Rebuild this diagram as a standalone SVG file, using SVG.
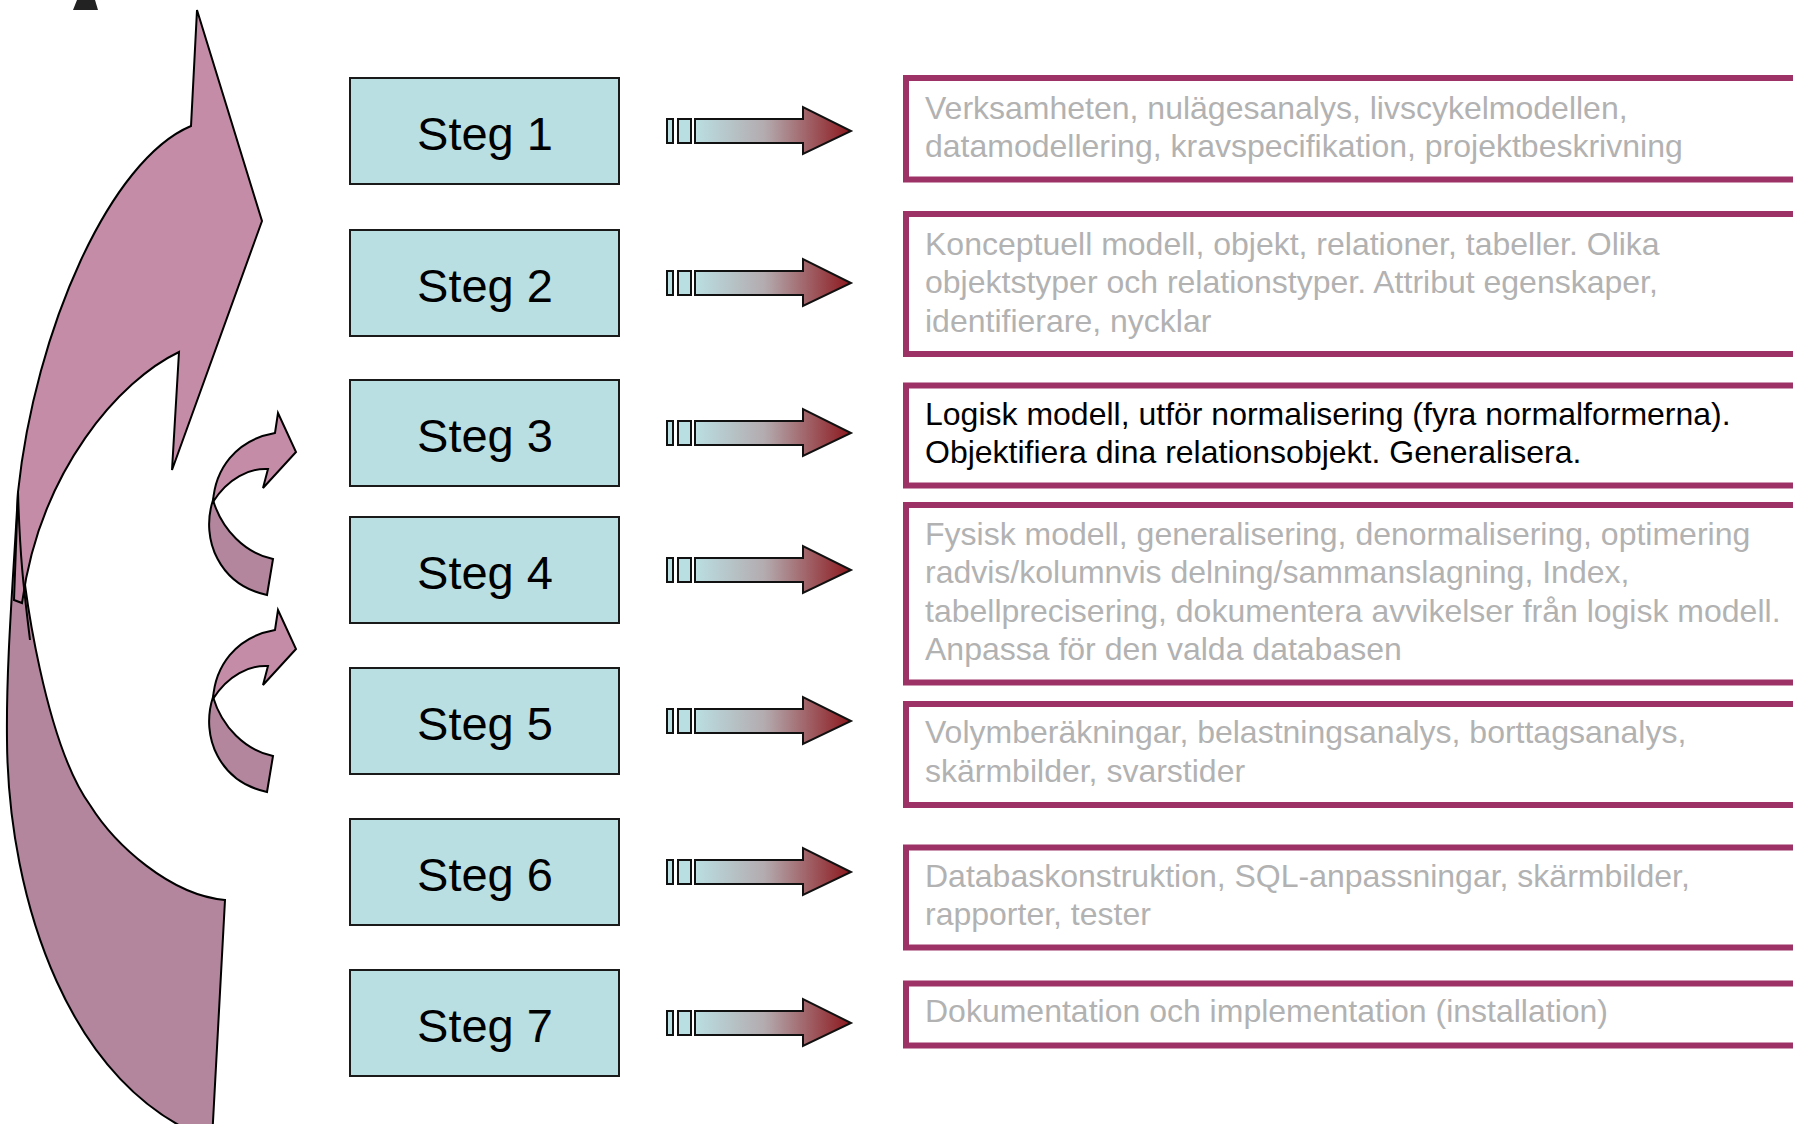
<svg xmlns="http://www.w3.org/2000/svg" width="1793" height="1124" viewBox="0 0 1793 1124">
<defs>
<linearGradient id="arrGrad" x1="695" y1="0" x2="851" y2="0" gradientUnits="userSpaceOnUse">
<stop offset="0" stop-color="#BADFE2"/>
<stop offset="0.45" stop-color="#B3AAAE"/>
<stop offset="1" stop-color="#8C181E"/>
</linearGradient>
<g id="stegArrow">
<rect x="667" y="-12" width="6" height="24" fill="#BADFE2" stroke="#111" stroke-width="2"/>
<rect x="678" y="-12" width="13" height="24" fill="#BADFE2" stroke="#111" stroke-width="2"/>
<path d="M695,-12 L803,-12 L803,-24 L851,0 L803,23 L803,12 L695,12 Z" fill="url(#arrGrad)" stroke="#111" stroke-width="2"/>
</g>
<g id="smallCurve">
<path d="M213,500 C200,540 220,585 267,595 L273,559 C245,553 222,530 213,500 Z" class="back"/>
<path d="M213,502 C215,470 235,440 275,433 L278,413 L296,452 L263,488 L268,469 C250,468 228,478 213,502 Z" class="front"/>
</g>
</defs>
<style>
.steg rect{fill:#B9DFE2;stroke:#1a1a1a;stroke-width:2}
.steg text{font-family:"Liberation Sans",Arial,sans-serif;font-size:47px;fill:#000;text-anchor:middle}
.desc rect{fill:#fff;stroke:#9C3265;stroke-width:6}
.desc text{font-family:"Liberation Sans",Arial,sans-serif;font-size:32px;fill:#B2B2B2}
.desc text.active{fill:#000}
.front{fill:#C58CA7;stroke:#000;stroke-width:2;stroke-linejoin:miter}
.back{fill:#B4869E;stroke:#000;stroke-width:2}
</style>

<polygon points="77,0 95,0 98,10 73,10" fill="#222"/>

<g id="big-curved-arrow">
<path class="back" d="M18,492 C14,570 6,660 7,740 C8,900 70,1090 212,1140 L225,900 C170,895 115,845 90,805 C50,750 20,600 18,492 Z"/>
<path class="front" d="M14,600 L18,492 C35,330 110,160 191,126 L197,10 L262,221 L172,470 L179,352 C120,380 40,470 22,603 Z"/>
<path d="M18,492 C20,560 24,590 30,640" fill="none" stroke="#000" stroke-width="2"/>
</g>

<g id="loop-arrow-1"><use href="#smallCurve"/></g>
<g id="loop-arrow-2"><use href="#smallCurve" transform="translate(0,197)"/></g>

<g id="steg1" class="steg"><rect x="350" y="78" width="269" height="106"/><text x="485" y="150">Steg 1</text></g>
<g id="steg2" class="steg"><rect x="350" y="230" width="269" height="106"/><text x="485" y="302">Steg 2</text></g>
<g id="steg3" class="steg"><rect x="350" y="380" width="269" height="106"/><text x="485" y="452">Steg 3</text></g>
<g id="steg4" class="steg"><rect x="350" y="517" width="269" height="106"/><text x="485" y="589">Steg 4</text></g>
<g id="steg5" class="steg"><rect x="350" y="668" width="269" height="106"/><text x="485" y="740">Steg 5</text></g>
<g id="steg6" class="steg"><rect x="350" y="819" width="269" height="106"/><text x="485" y="891">Steg 6</text></g>
<g id="steg7" class="steg"><rect x="350" y="970" width="269" height="106"/><text x="485" y="1042">Steg 7</text></g>

<g id="connectors">
<use href="#stegArrow" transform="translate(0,131)"/>
<use href="#stegArrow" transform="translate(0,283)"/>
<use href="#stegArrow" transform="translate(0,433)"/>
<use href="#stegArrow" transform="translate(0,570)"/>
<use href="#stegArrow" transform="translate(0,721)"/>
<use href="#stegArrow" transform="translate(0,872)"/>
<use href="#stegArrow" transform="translate(0,1023)"/>
</g>

<g id="desc1" class="desc"><rect x="906" y="78" width="1000" height="101.5"/>
<text x="925" y="119">Verksamheten, nulägesanalys, livscykelmodellen,</text>
<text x="925" y="157">datamodellering, kravspecifikation, projektbeskrivning</text></g>
<g id="desc2" class="desc"><rect x="906" y="214" width="1000" height="140"/>
<text x="925" y="255">Konceptuell modell, objekt, relationer, tabeller. Olika</text>
<text x="925" y="293">objektstyper och relationstyper. Attribut egenskaper,</text>
<text x="925" y="332">identifierare, nycklar</text></g>
<g id="desc3" class="desc"><rect x="906" y="385.5" width="1000" height="100"/>
<text class="active" x="925" y="425">Logisk modell, utför normalisering (fyra normalformerna).</text>
<text class="active" x="925" y="463">Objektifiera dina relationsobjekt. Generalisera.</text></g>
<g id="desc4" class="desc"><rect x="906" y="505" width="1000" height="177.5"/>
<text x="925" y="545">Fysisk modell, generalisering, denormalisering, optimering</text>
<text x="925" y="583">radvis/kolumnvis delning/sammanslagning, Index,</text>
<text x="925" y="622">tabellprecisering, dokumentera avvikelser från logisk modell.</text>
<text x="925" y="660">Anpassa för den valda databasen</text></g>
<g id="desc5" class="desc"><rect x="906" y="704" width="1000" height="101"/>
<text x="925" y="743">Volymberäkningar, belastningsanalys, borttagsanalys,</text>
<text x="925" y="782">skärmbilder, svarstider</text></g>
<g id="desc6" class="desc"><rect x="906" y="847.5" width="1000" height="100"/>
<text x="925" y="887">Databaskonstruktion, SQL-anpassningar, skärmbilder,</text>
<text x="925" y="925">rapporter, tester</text></g>
<g id="desc7" class="desc"><rect x="906" y="983.5" width="1000" height="62"/>
<text x="925" y="1022">Dokumentation och implementation (installation)</text></g>
</svg>
